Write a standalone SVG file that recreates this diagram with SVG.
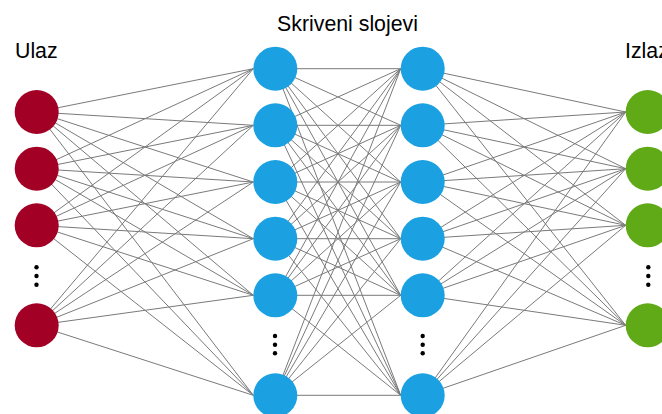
<svg xmlns="http://www.w3.org/2000/svg" width="662" height="414" viewBox="0 0 662 414">
<style>
.e{stroke:#7a7a7a;stroke-width:1;fill:none}
.in{fill:#a20025}
.hid{fill:#1ba1e2}
.out{fill:#60a917}
.dot{fill:#000}
text{font-family:"Liberation Sans",Arial,sans-serif;font-size:21.3px;fill:#000}
</style>
<rect width="662" height="414" fill="#fff"/>
<g id="connectors">
<line class="e" x1="36.7" y1="112" x2="253.3" y2="68.7"/>
<line class="e" x1="36.7" y1="112" x2="253.3" y2="125.3"/>
<line class="e" x1="36.7" y1="112" x2="253.3" y2="182"/>
<line class="e" x1="36.7" y1="112" x2="253.3" y2="238.7"/>
<line class="e" x1="36.7" y1="112" x2="253.3" y2="295.3"/>
<line class="e" x1="36.7" y1="112" x2="253.3" y2="395.3"/>
<line class="e" x1="36.7" y1="168.7" x2="253.3" y2="68.7"/>
<line class="e" x1="36.7" y1="168.7" x2="253.3" y2="125.3"/>
<line class="e" x1="36.7" y1="168.7" x2="253.3" y2="182"/>
<line class="e" x1="36.7" y1="168.7" x2="253.3" y2="238.7"/>
<line class="e" x1="36.7" y1="168.7" x2="253.3" y2="295.3"/>
<line class="e" x1="36.7" y1="168.7" x2="253.3" y2="395.3"/>
<line class="e" x1="36.7" y1="225.3" x2="253.3" y2="68.7"/>
<line class="e" x1="36.7" y1="225.3" x2="253.3" y2="125.3"/>
<line class="e" x1="36.7" y1="225.3" x2="253.3" y2="182"/>
<line class="e" x1="36.7" y1="225.3" x2="253.3" y2="238.7"/>
<line class="e" x1="36.7" y1="225.3" x2="253.3" y2="295.3"/>
<line class="e" x1="36.7" y1="225.3" x2="253.3" y2="395.3"/>
<line class="e" x1="36.7" y1="325.3" x2="253.3" y2="68.7"/>
<line class="e" x1="36.7" y1="325.3" x2="253.3" y2="125.3"/>
<line class="e" x1="36.7" y1="325.3" x2="253.3" y2="182"/>
<line class="e" x1="36.7" y1="325.3" x2="253.3" y2="238.7"/>
<line class="e" x1="36.7" y1="325.3" x2="253.3" y2="295.3"/>
<line class="e" x1="36.7" y1="325.3" x2="253.3" y2="395.3"/>

<line class="e" x1="275.3" y1="68.7" x2="400.7" y2="68.7"/>
<line class="e" x1="275.3" y1="68.7" x2="400.7" y2="125.3"/>
<line class="e" x1="275.3" y1="68.7" x2="400.7" y2="182"/>
<line class="e" x1="275.3" y1="68.7" x2="400.7" y2="238.7"/>
<line class="e" x1="275.3" y1="68.7" x2="400.7" y2="295.3"/>
<line class="e" x1="275.3" y1="68.7" x2="400.7" y2="395.3"/>
<line class="e" x1="275.3" y1="125.3" x2="400.7" y2="68.7"/>
<line class="e" x1="275.3" y1="125.3" x2="400.7" y2="125.3"/>
<line class="e" x1="275.3" y1="125.3" x2="400.7" y2="182"/>
<line class="e" x1="275.3" y1="125.3" x2="400.7" y2="238.7"/>
<line class="e" x1="275.3" y1="125.3" x2="400.7" y2="295.3"/>
<line class="e" x1="275.3" y1="125.3" x2="400.7" y2="395.3"/>
<line class="e" x1="275.3" y1="182" x2="400.7" y2="68.7"/>
<line class="e" x1="275.3" y1="182" x2="400.7" y2="125.3"/>
<line class="e" x1="275.3" y1="182" x2="400.7" y2="182"/>
<line class="e" x1="275.3" y1="182" x2="400.7" y2="238.7"/>
<line class="e" x1="275.3" y1="182" x2="400.7" y2="295.3"/>
<line class="e" x1="275.3" y1="182" x2="400.7" y2="395.3"/>
<line class="e" x1="275.3" y1="238.7" x2="400.7" y2="68.7"/>
<line class="e" x1="275.3" y1="238.7" x2="400.7" y2="125.3"/>
<line class="e" x1="275.3" y1="238.7" x2="400.7" y2="182"/>
<line class="e" x1="275.3" y1="238.7" x2="400.7" y2="238.7"/>
<line class="e" x1="275.3" y1="238.7" x2="400.7" y2="295.3"/>
<line class="e" x1="275.3" y1="238.7" x2="400.7" y2="395.3"/>
<line class="e" x1="275.3" y1="295.3" x2="400.7" y2="68.7"/>
<line class="e" x1="275.3" y1="295.3" x2="400.7" y2="125.3"/>
<line class="e" x1="275.3" y1="295.3" x2="400.7" y2="182"/>
<line class="e" x1="275.3" y1="295.3" x2="400.7" y2="238.7"/>
<line class="e" x1="275.3" y1="295.3" x2="400.7" y2="295.3"/>
<line class="e" x1="275.3" y1="295.3" x2="400.7" y2="395.3"/>
<line class="e" x1="275.3" y1="395.3" x2="400.7" y2="68.7"/>
<line class="e" x1="275.3" y1="395.3" x2="400.7" y2="125.3"/>
<line class="e" x1="275.3" y1="395.3" x2="400.7" y2="182"/>
<line class="e" x1="275.3" y1="395.3" x2="400.7" y2="238.7"/>
<line class="e" x1="275.3" y1="395.3" x2="400.7" y2="295.3"/>
<line class="e" x1="275.3" y1="395.3" x2="400.7" y2="395.3"/>

<line class="e" x1="422.7" y1="68.7" x2="625.7" y2="112"/>
<line class="e" x1="422.7" y1="68.7" x2="625.7" y2="168.7"/>
<line class="e" x1="422.7" y1="68.7" x2="625.7" y2="225.3"/>
<line class="e" x1="422.7" y1="68.7" x2="625.7" y2="325.3"/>
<line class="e" x1="422.7" y1="125.3" x2="625.7" y2="112"/>
<line class="e" x1="422.7" y1="125.3" x2="625.7" y2="168.7"/>
<line class="e" x1="422.7" y1="125.3" x2="625.7" y2="225.3"/>
<line class="e" x1="422.7" y1="125.3" x2="625.7" y2="325.3"/>
<line class="e" x1="422.7" y1="182" x2="625.7" y2="112"/>
<line class="e" x1="422.7" y1="182" x2="625.7" y2="168.7"/>
<line class="e" x1="422.7" y1="182" x2="625.7" y2="225.3"/>
<line class="e" x1="422.7" y1="182" x2="625.7" y2="325.3"/>
<line class="e" x1="422.7" y1="238.7" x2="625.7" y2="112"/>
<line class="e" x1="422.7" y1="238.7" x2="625.7" y2="168.7"/>
<line class="e" x1="422.7" y1="238.7" x2="625.7" y2="225.3"/>
<line class="e" x1="422.7" y1="238.7" x2="625.7" y2="325.3"/>
<line class="e" x1="422.7" y1="295.3" x2="625.7" y2="112"/>
<line class="e" x1="422.7" y1="295.3" x2="625.7" y2="168.7"/>
<line class="e" x1="422.7" y1="295.3" x2="625.7" y2="225.3"/>
<line class="e" x1="422.7" y1="295.3" x2="625.7" y2="325.3"/>
<line class="e" x1="422.7" y1="395.3" x2="625.7" y2="112"/>
<line class="e" x1="422.7" y1="395.3" x2="625.7" y2="168.7"/>
<line class="e" x1="422.7" y1="395.3" x2="625.7" y2="225.3"/>
<line class="e" x1="422.7" y1="395.3" x2="625.7" y2="325.3"/>
</g>

<g id="labels">
<text x="15" y="58">Ulaz</text>
<text x="347.5" y="31" text-anchor="middle">Skriveni slojevi</text>
<text x="625" y="58">Izlaz</text>
</g>

<g id="input">
<circle id="in1" class="in" cx="36.7" cy="112" r="22"/>
<circle id="in2" class="in" cx="36.7" cy="168.7" r="22"/>
<circle id="in3" class="in" cx="36.7" cy="225.3" r="22"/>
<g id="in-dots"><circle class="dot" cx="36.5" cy="267.3" r="2.2"/><circle class="dot" cx="36.5" cy="276" r="2.2"/><circle class="dot" cx="36.5" cy="284.7" r="2.2"/></g>
<circle id="in4" class="in" cx="36.7" cy="325.3" r="22"/>
</g>

<g id="hidden1">
<circle id="h1n1" class="hid" cx="275.3" cy="68.7" r="22"/>
<circle id="h1n2" class="hid" cx="275.3" cy="125.3" r="22"/>
<circle id="h1n3" class="hid" cx="275.3" cy="182" r="22"/>
<circle id="h1n4" class="hid" cx="275.3" cy="238.7" r="22"/>
<circle id="h1n5" class="hid" cx="275.3" cy="295.3" r="22"/>
<g id="h1-dots"><circle class="dot" cx="275" cy="336" r="2.2"/><circle class="dot" cx="275" cy="344.7" r="2.2"/><circle class="dot" cx="275" cy="353.3" r="2.2"/></g>
<circle id="h1n6" class="hid" cx="275.3" cy="395.3" r="22"/>
</g>

<g id="hidden2">
<circle id="h2n1" class="hid" cx="422.7" cy="68.7" r="22"/>
<circle id="h2n2" class="hid" cx="422.7" cy="125.3" r="22"/>
<circle id="h2n3" class="hid" cx="422.7" cy="182" r="22"/>
<circle id="h2n4" class="hid" cx="422.7" cy="238.7" r="22"/>
<circle id="h2n5" class="hid" cx="422.7" cy="295.3" r="22"/>
<g id="h2-dots"><circle class="dot" cx="422.7" cy="336" r="2.2"/><circle class="dot" cx="422.7" cy="344.7" r="2.2"/><circle class="dot" cx="422.7" cy="353.3" r="2.2"/></g>
<circle id="h2n6" class="hid" cx="422.7" cy="395.3" r="22"/>
</g>

<g id="output">
<circle id="out1" class="out" cx="647.7" cy="112" r="22"/>
<circle id="out2" class="out" cx="647.7" cy="168.7" r="22"/>
<circle id="out3" class="out" cx="647.7" cy="225.3" r="22"/>
<g id="out-dots"><circle class="dot" cx="648.3" cy="267.3" r="2.2"/><circle class="dot" cx="648.3" cy="276" r="2.2"/><circle class="dot" cx="648.3" cy="284.7" r="2.2"/></g>
<circle id="out4" class="out" cx="647.7" cy="325.3" r="22"/>
</g>
</svg>
